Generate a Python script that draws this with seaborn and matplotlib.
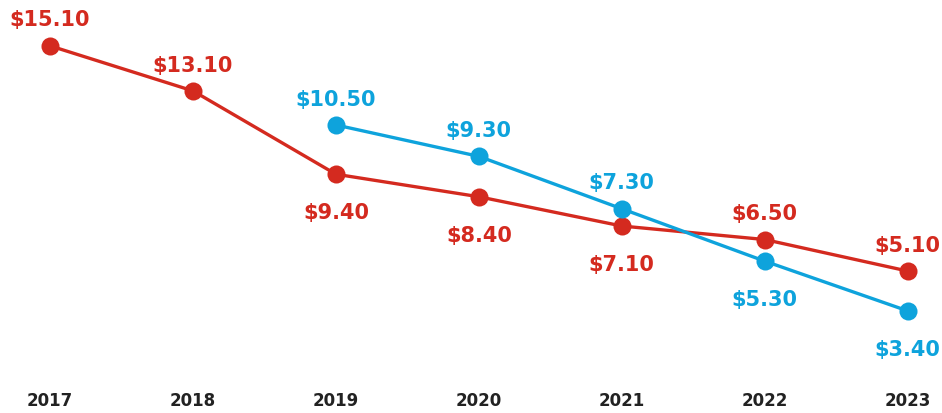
import matplotlib
matplotlib.use("Agg")
import matplotlib.pyplot as plt
import numpy as np
import pandas as pd
import seaborn as sns

YEARS = [2017, 2018, 2019, 2020, 2021, 2022, 2023]
RED_VALUES = [15.10, 13.10, 9.40, 8.40, 7.10, 6.50, 5.10]
BLUE_VALUES = [np.nan, np.nan, 10.50, 9.30, 7.30, 5.30, 3.40]

RED = "#d42a1f"
BLUE = "#0ea3dc"

# +1 label above the point, -1 below
RED_SIDE = [1, 1, -1, -1, -1, 1, 1]
BLUE_SIDE = [1, 1, 1, 1, 1, -1, -1]

red_frame = pd.DataFrame({"year": YEARS, "price": RED_VALUES})
blue_frame = pd.DataFrame({"year": YEARS, "price": BLUE_VALUES}).dropna()

sns.set_theme(style="white")
plt.rcParams["font.family"] = ["Liberation Sans Narrow", "DejaVu Sans"]

fig = plt.figure(figsize=(9.42, 4.14), dpi=100)
ax = fig.add_axes([0, 0.0556, 1, 0.9444])
# the blue series in the original sits on its own vertical scale
ax2 = ax.twinx()

line_kw = dict(marker="o", markersize=13, markeredgewidth=0, linewidth=2.4)
sns.lineplot(data=red_frame, x="year", y="price", color=RED, ax=ax, **line_kw)
sns.lineplot(data=blue_frame, x="year", y="price", color=BLUE, ax=ax2, **line_kw)

for axis, values, sides, color in ((ax, RED_VALUES, RED_SIDE, RED),
                                   (ax2, BLUE_VALUES, BLUE_SIDE, BLUE)):
    for year, value, side in zip(YEARS, values, sides):
        if np.isnan(value):
            continue
        axis.annotate(
            f"${value:.2f}", (year, value),
            xytext=(0, 19 if side > 0 else -27.5),
            textcoords="offset points", ha="center", va="center",
            fontsize=15, fontweight="bold", color=color,
        )

ax.set_xlim(2016.65, 2023.24)
ax.set_ylim(-0.18, 17.18)
ax2.set_ylim(0.38, 15.31)
ax.set_xticks(YEARS)
ax.set_xticklabels([str(y) for y in YEARS])
ax.set_yticks([])
ax2.set_yticks([])
ax.tick_params(axis="x", length=0, pad=1, labelsize=12, labelcolor="#222222")
for label in ax.get_xticklabels():
    label.set_fontweight("bold")
for axis in (ax, ax2):
    axis.set_xlabel("")
    axis.set_ylabel("")
    for spine in axis.spines.values():
        spine.set_visible(False)

fig.savefig("out.png", dpi=100)
